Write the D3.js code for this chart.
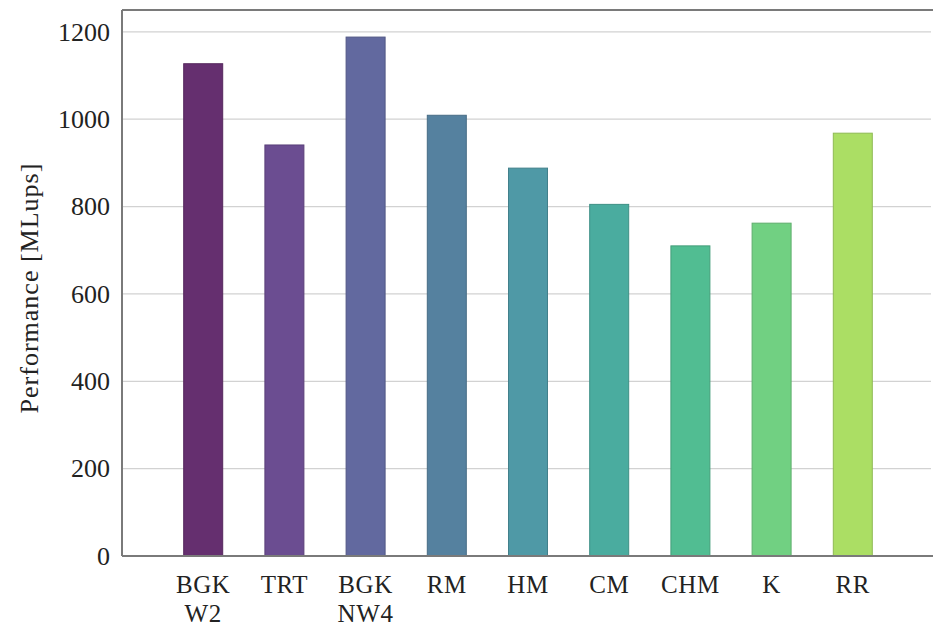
<!DOCTYPE html>
<html>
<head>
<meta charset="utf-8">
<script src="https://cdn.jsdelivr.net/npm/d3@7"></script>
<style>
  html, body { margin: 0; padding: 0; background: #fff; }
  svg { display: block; }
</style>
</head>
<body>
<svg id="chart" width="933" height="630"></svg>
<script>
// Performance of the collision operators
const categories = [["BGK", "W2"], ["TRT"], ["BGK", "NW4"], ["RM"], ["HM"], ["CM"], ["CHM"], ["K"], ["RR"]];
const performance = [1127, 941, 1188, 1009, 888, 805, 710, 762, 968];
const barColors = ["#652f6f", "#6b4d91", "#62699f", "#55819f", "#4f99a6", "#4aac9f", "#51bd92", "#71d082", "#abde64"];
const yTicks = [0, 200, 400, 600, 800, 1000, 1200];
const yLabel = "Performance [MLups]";

const FONT = "Liberation Serif, DejaVu Serif, serif";
const svg = d3.select("#chart");
const W = 933;
const plotLeft = 122, plotTop = 10, plotBottom = 556;

// bars sit at positions 1..9 on a linear axis that runs past the right edge
const x = d3.scaleLinear().domain([0, 10]).range([plotLeft, plotLeft + 812]);
const y = d3.scaleLinear().domain([0, 1250]).range([plotBottom, plotTop]);
const barW = 39;

// grid lines
svg.append("g")
  .selectAll("line")
  .data(yTicks.filter(d => d > 0))
  .join("line")
  .attr("x1", plotLeft).attr("x2", W - 2)
  .attr("y1", d => y(d)).attr("y2", d => y(d))
  .attr("stroke", "#d2d2d2").attr("stroke-width", 1.3);

// bars
svg.append("g")
  .selectAll("rect")
  .data(performance)
  .join("rect")
  .attr("x", (d, i) => x(i + 1) - barW / 2)
  .attr("y", d => y(d))
  .attr("width", barW)
  .attr("height", d => y(0) - y(d))
  .attr("fill", (d, i) => barColors[i])
  .attr("stroke", (d, i) => d3.color(barColors[i]).darker(0.5))
  .attr("stroke-width", 1);

// frame: left, top and bottom axis lines
const frame = svg.append("g").attr("stroke", "#7a7a7a").attr("stroke-width", 2).attr("fill", "none");
frame.append("line").attr("x1", plotLeft).attr("x2", plotLeft).attr("y1", plotTop).attr("y2", plotBottom);
frame.append("line").attr("x1", plotLeft).attr("x2", W).attr("y1", plotTop).attr("y2", plotTop);
frame.append("line").attr("x1", plotLeft).attr("x2", W).attr("y1", plotBottom).attr("y2", plotBottom);

// y axis tick labels
const yAxis = d3.axisLeft(y).tickValues(yTicks).tickFormat(d3.format("d")).tickSize(0).tickPadding(12);
const gy = svg.append("g").attr("transform", `translate(${plotLeft},0)`).call(yAxis)
  .attr("font-family", FONT).attr("font-size", 26);
gy.select(".domain").remove();
gy.selectAll("text")
  .attr("font-family", FONT)
  .attr("font-size", 26)
  .attr("fill", "#222");

// x category labels (two lines where needed)
const xl = svg.append("g").attr("font-family", FONT).attr("font-size", 25).attr("fill", "#222");
categories.forEach((lines, i) => {
  const t = xl.append("text")
    .attr("x", x(i + 1))
    .attr("y", 593)
    .attr("text-anchor", "middle")
    .attr("letter-spacing", 0.6);
  lines.forEach((s, k) => {
    t.append("tspan").attr("x", x(i + 1)).attr("dy", k === 0 ? 0 : 29).text(s);
  });
});

// y axis title
svg.append("text")
  .attr("transform", `translate(38,${(plotTop + plotBottom) / 2 + 5}) rotate(-90)`)
  .attr("text-anchor", "middle")
  .attr("font-family", FONT)
  .attr("font-size", 26)
  .attr("letter-spacing", 1)
  .attr("fill", "#222")
  .text(yLabel);
</script>
</body>
</html>
